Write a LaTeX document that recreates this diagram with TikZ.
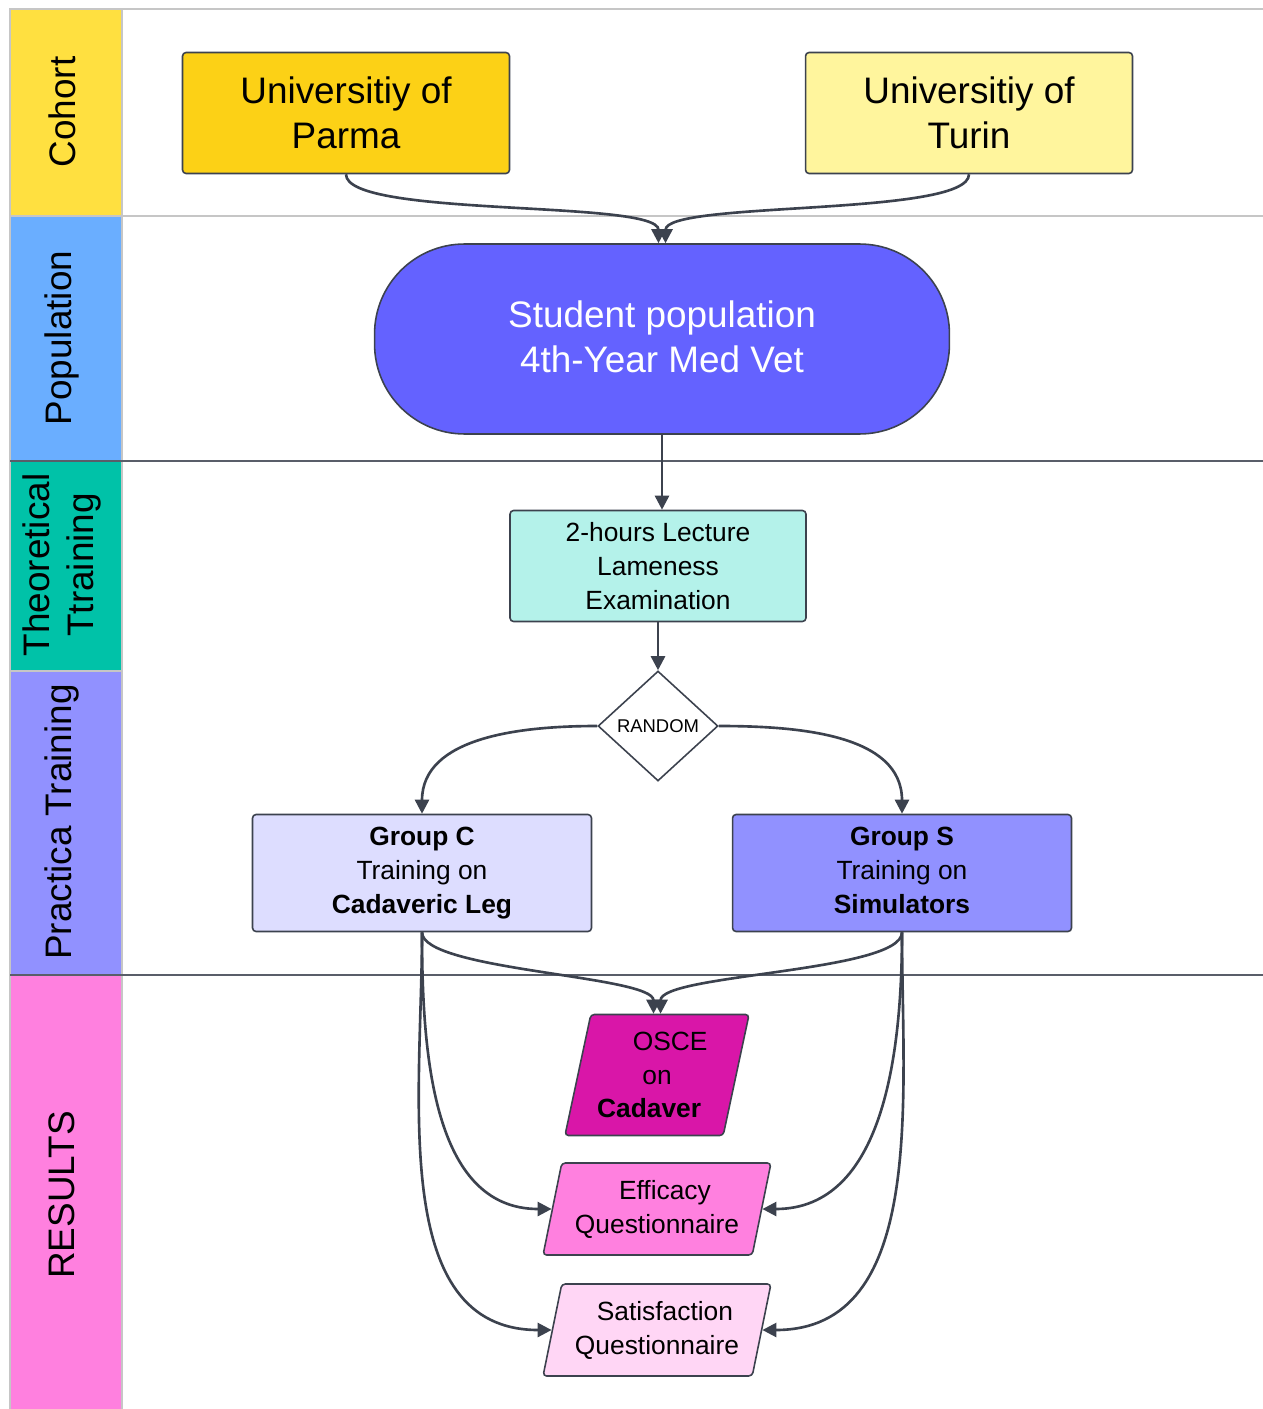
\documentclass[tikz,border=0pt]{standalone}
\usepackage{fontspec}
\setmainfont{Liberation Sans}
\usepackage{xcolor}
\usetikzlibrary{arrows.meta,positioning,shapes.geometric}
\definecolor{edgec}{RGB}{60,66,78}
\definecolor{lanecohort}{RGB}{255,224,64}
\definecolor{lanepop}{RGB}{106,174,255}
\definecolor{laneteo}{RGB}{0,194,168}
\definecolor{laneprac}{RGB}{145,145,255}
\definecolor{laneres}{RGB}{255,128,223}
\definecolor{parmac}{RGB}{252,209,22}
\definecolor{turinc}{RGB}{255,245,157}
\definecolor{popc}{RGB}{100,98,255}
\definecolor{lecc}{RGB}{180,242,234}
\definecolor{grpcc}{RGB}{221,221,255}
\definecolor{grpsc}{RGB}{145,145,255}
\definecolor{oscec}{RGB}{217,22,168}
\definecolor{effc}{RGB}{255,128,223}
\definecolor{satc}{RGB}{255,214,245}
\tikzset{
  lanelab/.style={rotate=90,align=center,font=\fontsize{21}{25.5}\selectfont},
  thinsep/.style={line width=.6pt,gray!45},
  darksep/.style={line width=.6pt,edgec!85},
  box/.style={rectangle,draw=edgec,line width=.9pt,rounded corners=2pt,align=center,inner sep=2pt},
  unibox/.style={box,minimum width=6.54cm,minimum height=2.42cm,font=\fontsize{21}{25.5}\selectfont},
  popbox/.style={box,fill=popc,text=white,rounded corners=1.8cm,minimum width=11.5cm,minimum height=3.8cm,font=\fontsize{21}{25.5}\selectfont},
  lecbox/.style={box,fill=lecc,minimum width=5.92cm,minimum height=2.22cm,font=\fontsize{15}{19.3}\selectfont},
  randv/.style={diamond,draw=edgec,line width=.9pt,fill=white,aspect=1.09,minimum width=2.4cm,minimum height=2.2cm,inner sep=0pt,font=\fontsize{10.5}{12}\selectfont},
  grpbox/.style={box,minimum width=6.78cm,minimum height=2.34cm,font=\fontsize{15}{19.3}\selectfont},
  resv/.style={trapezium,trapezium left angle=75,trapezium right angle=105,trapezium stretches=true,draw=edgec,line width=.9pt,rounded corners=2pt,align=center,inner sep=1pt,font=\fontsize{15}{19.3}\selectfont},
  arr/.style={line width=1.5pt,draw=edgec,-{Triangle[length=2.8mm,width=2.8mm]}},
}
\begin{document}
\begin{tikzpicture}[x=0.02cm,y=0.02cm]
  \useasboundingbox (0,0) rectangle (1263,-1409);
  % lanes
  \fill[lanecohort] (10,-9) rectangle (122,-216);
  \fill[lanepop] (10,-216) rectangle (122,-461);
  \fill[laneteo] (10,-461) rectangle (122,-671);
  \fill[laneprac] (10,-671) rectangle (122,-975);
  \fill[laneres] (10,-975) rectangle (122,-1409);
  \draw[thinsep] (10,-1409) -- (10,-9) -- (1263,-9);
  \draw[thinsep] (122,-9) -- (122,-1409);
  \draw[thinsep] (10,-216) -- (1263,-216);
  \draw[darksep] (10,-461) -- (1263,-461);
  \draw[thinsep] (10,-671) -- (122,-671);
  \draw[darksep] (10,-975) -- (1263,-975);
  \node[lanelab] (lcohort) at (62,-112) {Cohort};
  \node[lanelab] (lpop) at (62,-338) {Population};
  \node[lanelab] (lteo) at (62,-565) {Theoretical\\Ttraining};
  \node[lanelab] (lprac) at (62,-822) {Practica Training};
  \node[lanelab] (lres) at (62,-1195) {RESULTS};

  % nodes
  \node[unibox,fill=parmac] (parma) at (346,-113) {Universitiy of\\Parma};
  \node[unibox,fill=turinc] (turin) at (969,-113) {Universitiy of\\Turin};
  \node[popbox] (pop) at (662,-339) {\raisebox{3pt}{Student population}\\\raisebox{3pt}{4th-Year Med Vet}};
  \node[lecbox] (lec) at (658,-566) {2-hours Lecture\\Lameness\\Examination};
  \node[randv] (rand) at (658,-726) {RANDOM};
  \node[grpbox,fill=grpcc] (grpc) at (422,-873) {\textbf{Group C}\\Training on\\\textbf{Cadaveric Leg}};
  \node[grpbox,fill=grpsc] (grps) at (902,-873) {\textbf{Group S}\\Training on\\\textbf{Simulators}\vphantom{g}};
  \node[resv,fill=oscec,minimum width=3.7cm,minimum height=2.42cm] (osce) at (657,-1075) {\hspace*{1em}OSCE\\on\\\textbf{Cadaver}\hspace*{.6em}};
  \node[resv,fill=effc,minimum width=4.56cm,minimum height=1.84cm] (eff) at (657,-1209) {\hspace*{.6em}Efficacy\\Questionnaire};
  \node[resv,fill=satc,minimum width=4.56cm,minimum height=1.84cm] (sat) at (657,-1330) {\hspace*{.6em}Satisfaction\\Questionnaire};

  % connectors
  \draw[arr] (parma.south) to[out=-90,in=90,looseness=.35] ([xshift=-2pt]pop.north);
  \draw[arr] (turin.south) to[out=-90,in=90,looseness=.35] ([xshift=2pt]pop.north);
  \draw[arr] (pop.south) -- (pop.south |- lec.north);
  \draw[arr] (lec.south) -- (rand.north);
  \draw[arr] (rand.west) to[out=180,in=90] (grpc.north);
  \draw[arr] (rand.east) to[out=0,in=90] (grps.north);
  \draw[arr] (grpc.south) to[out=-90,in=90,looseness=.4] ([xshift=-2pt]osce.north);
  \draw[arr] (grps.south) to[out=-90,in=90,looseness=.4] ([xshift=2pt]osce.north);
  \draw[arr] (grpc.south) to[out=-90,in=180,looseness=1] (eff.west);
  \draw[arr] (grps.south) to[out=-90,in=0,looseness=1] (eff.east);
  \draw[arr] (grpc.south) to[out=-90,in=180,looseness=1] (sat.west);
  \draw[arr] (grps.south) to[out=-90,in=0,looseness=1] (sat.east);
\end{tikzpicture}
\end{document}
